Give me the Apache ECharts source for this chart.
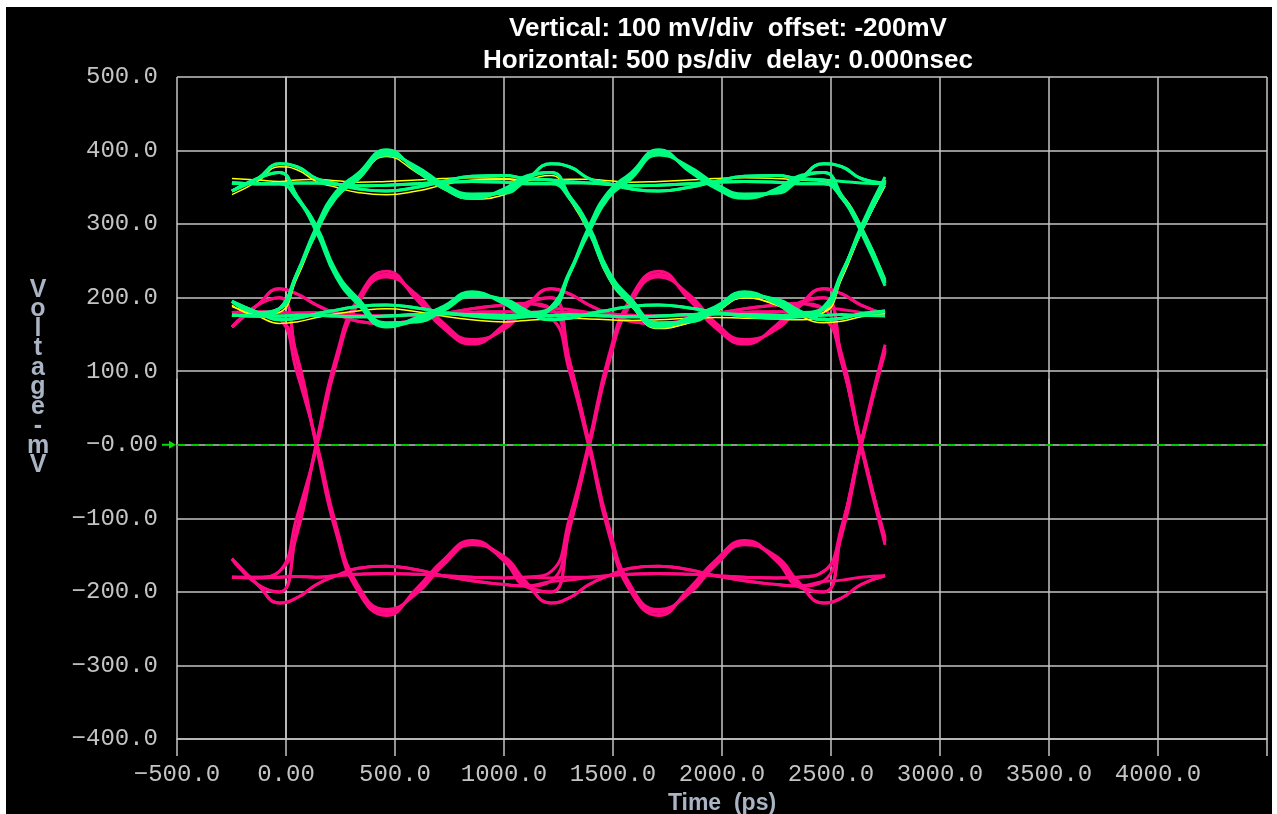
<!DOCTYPE html>
<html><head><meta charset="utf-8">
<script src="https://cdn.jsdelivr.net/npm/echarts@6/dist/echarts.min.js"></script>
<style>
html,body{margin:0;padding:0;background:#fff;width:1277px;height:814px;overflow:hidden}
#chart{position:absolute;left:6px;top:7px;width:1266px;height:807px;background:#000}
</style></head><body><div id="chart"></div>
<script>
// Sample times (ps) shared by every trace
const sampleTimes = [-248,-130,-30,50,140,230,330,460,600,720,853,1000,1100,1217,1300,1390,1480,1580,1709,1850,1970,2103,2250,2350,2467,2550,2638,2748];

// Magenta traces (mV)
const pink01 = [160,190,200,115, 0,-115,-195,-228,-198,-160,-133,-155,-190,-200,-115, 0,115,195,232,200,162,140,160,190,200,115, 0,-130];
const pink02 = [-155,-190,-200,-115, 0,115,195,232,200,162,140,160,190,200,115, 0,-115,-195,-228,-198,-160,-133,-155,-190,-200,-115, 0,130];
const pink03 = [180,180,172,98, 4,-110,-191,-224,-202,-164,-136,-152,-186,-215,-208, -190,-178,-168,-165,-170,-178,-185,-190,-192,-185,-112, 3,126];
const pink04 = [-180,-180,-172,-98, -4,110,191,228,204,166,143,157,186,212,205, 190,178,168,165,170,178,185,190,192,185,112, -3,-126];
const pink05 = [160,190,212,205, 190,178,168,165,170,178,185,190,192,185,112, 4,-110,-191,-224,-202,-164,-136,-152,-186,-215,-208, -190,-178];
const pink06 = [-155,-190,-215,-208, -190,-178,-168,-165,-170,-178,-185,-190,-192,-185,-112, -4,110,191,228,204,166,143,157,186,212,205, 190,178];
const pink07 = [180,181,180,179, 180,178,176,175,176,178,180,181,180,172,100, -4,-120,-199,-232,-195,-157,-130,-158,-193,-200,-115, 4,136];
const pink08 = [-180,-181,-180,-179, -180,-178,-176,-175,-176,-178,-180,-181,-180,-172,-100, 4,120,199,236,197,159,137,163,193,200,115, -4,-136];
const pink09 = [180,180,172,122, -4,-120,-199,-232,-195,-157,-130,-158,-193,-200,-115, -2,112,193,230,202,165,141,158,188,212,205, 190,178];
const pink10 = [-180,-180,-172,-122, 4,120,199,236,197,159,137,163,193,200,115, 2,-112,-193,-226,-200,-162,-134,-156,-188,-215,-208, -190,-178];
const pink11 = [160,190,212,205, 190,178,168,165,170,178,185,190,192,186,184, 180,178,176,175,176,178,180,181,180,172,110, 2,-132];
const pink12 = [-155,-190,-215,-208, -190,-178,-168,-165,-170,-178,-185,-190,-192,-186,-184, -180,-178,-176,-175,-176,-178,-180,-181,-180,-172,-110, -2,132];
const pink13 = [180,181,180,179, 180,178,176,175,176,178,180,181,180,181,180, 180,178,176,175,176,178,180,181,180,172,122, -1,-128];
const pink14 = [-180,-181,-180,-179, -180,-178,-176,-175,-176,-178,-180,-181,-180,-181,-180, -180,-178,-176,-175,-176,-178,-180,-181,-180,-172,-122, 1,128];
const pink15 = [160,190,200,115, 2,-112,-193,-226,-200,-162,-134,-156,-188,-215,-208, -190,-178,-168,-165,-170,-178,-185,-190,-192,-186,-184, -180,-178];
const pink16 = [-155,-190,-200,-115, -2,112,193,230,202,165,141,158,188,212,205, 190,178,168,165,170,178,185,190,192,186,184, 180,178];

// Green traces (mV)
const green01 = [345,362,370,338, 293,232,195,163,170,185,205,195,180,185,232, 293,340,365,398,375,352,338,345,362,370,338, 293,220];
const green02 = [195,180,185,232, 293,340,365,398,375,352,338,345,362,370,338, 293,232,195,163,170,185,205,195,180,185,232, 293,360];
const green03 = [356,355,355,335, 297,236,199,166,167,182,202,198,183,170,172, 178,183,188,190,186,180,175,172,174,188,235, 290,356];
const green04 = [176,175,185,233, 289,336,361,394,378,355,341,342,359,382,378, 362,355,348,345,350,358,365,366,362,360,338, 296,224];
const green05 = [345,362,382,378, 362,355,348,345,350,358,365,366,362,360,338, 297,236,199,166,167,182,202,198,183,170,172, 178,182];
const green06 = [195,180,170,172, 178,183,188,190,186,180,175,172,174,188,235, 289,336,361,394,378,355,341,342,359,382,378, 362,356];
const green07 = [356,355,355,356, 356,354,352,353,355,357,358,357,355,355,335, 289,228,191,160,173,188,208,192,177,185,232, 297,364];
const green08 = [176,175,175,176, 176,175,174,175,177,178,177,176,175,185,233, 297,344,369,401,372,349,335,348,365,370,338, 289,216];
const green09 = [356,355,355,335, 289,228,191,160,173,188,208,192,177,185,232, 291,338,363,396,376,354,339,344,360,382,378, 362,356];
const green10 = [176,175,185,233, 297,344,369,401,372,349,335,348,365,370,338, 295,234,197,162,169,184,204,196,181,170,172, 178,182];
const green11 = [345,362,382,378, 362,355,348,345,350,358,365,366,362,360,358, 356,354,352,353,355,357,358,357,355,355,335, 292,222];
const green12 = [195,180,170,172, 178,183,188,190,186,180,175,172,174,176,177, 176,175,174,175,177,178,177,176,175,185,233, 294,358];
const green13 = [356,355,355,356, 356,354,352,353,355,357,358,357,355,355,356, 356,354,352,353,355,357,358,357,355,355,335, 293,220];
const green14 = [176,175,175,176, 176,175,174,175,177,178,177,176,175,175,176, 176,175,174,175,177,178,177,176,175,185,233, 293,360];
const green15 = [345,362,370,338, 295,234,197,162,169,184,204,196,181,170,172, 178,183,188,190,186,180,175,172,174,176,177, 176,175];
const green16 = [195,180,185,232, 291,338,363,396,376,354,339,344,360,382,378, 362,355,348,345,350,358,365,366,362,360,358, 356,355];

// Yellow traces (mV)
const yellow1 = [362,360,358,360, 361,359,357,358,360,362,363,362,360,360,361, 361,359,357,358,360,362,363,362,360,358,340, 298,226];
const yellow2 = [190,176,180,226, 288,335,360,392,370,348,334,340,358,366,334, 288,226,190,158,166,180,200,190,176,180,226, 288,352];
const yellow3 = [188,175,165,167, 173,178,182,185,181,175,170,167,169,171,172, 171,170,169,170,172,173,172,171,170,180,228, 288,352];
const yellow4 = [340,358,378,374, 358,350,343,340,345,353,360,361,357,356,334, 289,228,190,159,166,181,200,190,176,166,168, 174,178];

const pinkTraces = [pink01,pink02,pink03,pink04,pink05,pink06,pink07,pink08,pink09,pink10,pink11,pink12,pink13,pink14,pink15,pink16];
const greenTraces = [green01,green02,green03,green04,green05,green06,green07,green08,green09,green10,green11,green12,green13,green14,green15,green16];
const yellowTraces = [yellow1,yellow2,yellow3,yellow4];

// Tick labels
const yTickValues = [-400,-300,-200,-100,0,100,200,300,400,500];
const yTickLabels = ['\u2212400.0','\u2212300.0','\u2212200.0','\u2212100.0','\u22120.00','100.0','200.0','300.0','400.0','500.0'];
const xTickValues = [-500,0,500,1000,1500,2000,2500,3000,3500,4000,4500];
const xTickLabels = ['\u2212500.0','0.00','500.0','1000.0','1500.0','2000.0','2500.0','3000.0','3500.0','4000.0',''];

const titleLines = ['Vertical: 100 mV/div  offset: -200mV','Horizontal: 500 ps/div  delay: 0.000nsec'];
const yAxisTitle = 'Voltage-mV';
const xAxisTitle = 'Time  (ps)';

const GRID = '#c4c4c4';
const NAME_COLOR = '#aab4c4';
const chart = echarts.init(document.getElementById('chart'), null, {renderer:'canvas'});

function toSeries(trace, color, width, z) {
  return {
    type:'line', data: sampleTimes.map((t,i)=>[t, trace[i]]),
    smooth: 0.5, showSymbol:false, silent:true, animation:false, z:z,
    lineStyle:{color:color, width:width}, xAxisIndex:0, yAxisIndex:0
  };
}

const series = [];
series.push({
  type:'line', data:[], silent:true, animation:false, z:1,
  markLine:{silent:true, symbol:'none', animation:false, label:{show:false},
    lineStyle:{color:'#00c800', type:[8,6], width:2, opacity:1}, data:[{yAxis:0}]}
});
pinkTraces.forEach(t=>series.push(toSeries(t,'#ff0a82',3,2)));
yellowTraces.forEach(t=>series.push(toSeries(t,'#ffff00',1.5,3)));
greenTraces.forEach(t=>series.push(toSeries(t,'#00ff80',3,4)));

const monoLabel = {fontFamily:'Liberation Mono, DejaVu Sans Mono, monospace', fontSize:24, color:'#c4c4c4'};

chart.setOption({
  backgroundColor:'#000',
  animation:false,
  title:[{
    text: titleLines.join('\n'), left:717, top:1, textAlign:'center', z:1,
    textStyle:{color:'#ffffff', fontFamily:'Liberation Sans, Arial, sans-serif', fontWeight:'bold', fontSize:26, lineHeight:32}
  },{
    text: yAxisTitle.split('').join('\n'), left:27, top:268, textAlign:'center', z:1,
    textStyle:{color:NAME_COLOR, fontFamily:'Liberation Sans, Arial, sans-serif', fontWeight:'bold', fontSize:25, lineHeight:19.5}
  }],
  grid:{left:171, right:5, top:70, bottom:75, containLabel:false, outerBoundsMode:'none'},
  xAxis:[{
    type:'value', min:-500, max:4500, interval:500, position:'bottom',
    axisLine:{show:true, onZero:false, lineStyle:{color:GRID, width:1.5}},
    axisTick:{show:true, length:17, inside:false, lineStyle:{color:GRID, width:1.5}},
    splitLine:{show:true, lineStyle:{color:GRID, width:1.5}},
    axisLabel:Object.assign({margin:24, formatter:v=>{const i=xTickValues.indexOf(v);return i>=0?xTickLabels[i]:'';}}, monoLabel),
    name:xAxisTitle, nameLocation:'middle', nameGap:50,
    nameTextStyle:{color:NAME_COLOR, fontFamily:'Liberation Sans, Arial, sans-serif', fontWeight:'bold', fontSize:23, lineHeight:24}
  },{
    type:'value', min:-500, max:4500, interval:500, position:'top', z:3,
    axisLine:{show:false}, axisLabel:{show:false}, splitLine:{show:false},
    axisTick:{show:true, length:66, inside:false, lineStyle:{color:GRID, width:1.5}}
  }],
  yAxis:{
    type:'value', min:-400, max:500, interval:100,
    axisLine:{show:true, lineStyle:{color:GRID, width:1.5}},
    axisTick:{show:false},
    splitLine:{show:true, lineStyle:{color:GRID, width:1.5}},
    axisLabel:Object.assign({margin:19, formatter:v=>{const i=yTickValues.indexOf(v);return i>=0?yTickLabels[i]:'';}}, monoLabel)
  },
  series: series
});

// trigger-level arrow next to the zero line
const p = chart.convertToPixel({xAxisIndex:0, yAxisIndex:0}, [-500, 0]);
chart.setOption({graphic:[{
  type:'group', silent:true, z:10, children:[
    {type:'line', shape:{x1:p[0]-15, y1:p[1], x2:p[0]-6, y2:p[1]}, style:{stroke:'#00e000', lineWidth:2}},
    {type:'polygon', shape:{points:[[p[0]-8,p[1]-4],[p[0]-1,p[1]],[p[0]-8,p[1]+4]]}, style:{fill:'#00e000'}}
  ]}]});
</script></body></html>
